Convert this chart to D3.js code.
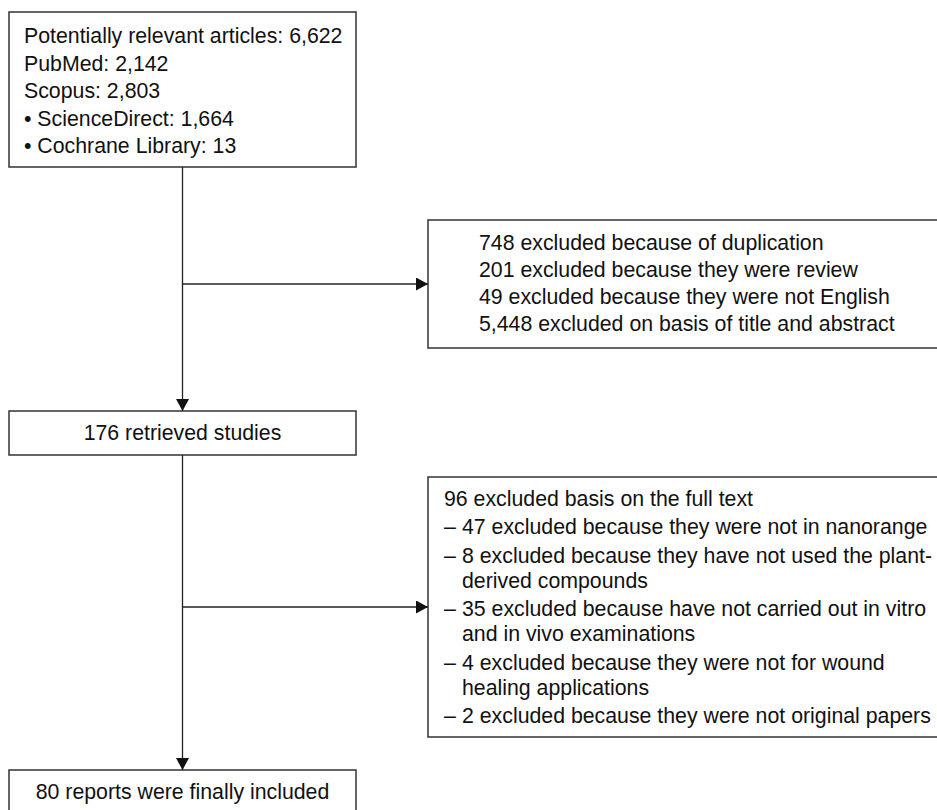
<!DOCTYPE html>
<html>
<head>
<meta charset="utf-8">
<script src="https://cdn.jsdelivr.net/npm/d3@7"></script>
<style>
  body { margin: 0; background: #fff; }
  text { font-family: Arial, "Liberation Sans", sans-serif; font-size: 21.3px; fill: #111; }
</style>
</head>
<body>
<div class="chart"></div>
<script>
// flow counts
const totalArticles = 6622;
const sourceNames = ["PubMed", "Scopus", "ScienceDirect", "Cochrane Library"];
const sourceCounts = [2142, 2803, 1664, 13];
const sourceBullet = [false, false, true, true];

const dupCounts = [748, 201, 49, 5448];
const dupReasons = [
  "excluded because of duplication",
  "excluded because they were review",
  "excluded because they were not English",
  "excluded on basis of title and abstract"
];

const retrieved = 176;

const fullTextTotal = 96;
const fullTextCounts = [47, 8, 35, 4, 2];
const fullTextReasons = [
  ["excluded because they were not in nanorange"],
  ["excluded because they have not used the plant-", "derived compounds"],
  ["excluded because have not carried out in vitro", "and in vivo examinations"],
  ["excluded because they were not for wound", "healing applications"],
  ["excluded because they were not original papers"]
];

const included = 80;

const fmt = d3.format(",");
const width = 937, height = 810;

const svg = d3.select(".chart")
  .append("svg")
  .attr("width", width)
  .attr("height", height);

svg.append("defs").append("marker")
  .attr("id", "head")
  .attr("markerUnits", "userSpaceOnUse")
  .attr("viewBox", "0 0 12 13")
  .attr("refX", 12).attr("refY", 6.5)
  .attr("markerWidth", 12).attr("markerHeight", 13)
  .attr("orient", "auto")
  .append("path")
  .attr("d", "M0,0L12,6.5L0,13Z")
  .attr("fill", "#111");

// boxes
const left = { x: 9, w: 347 };
const right = { x: 428, w: 540 };
const boxes = [
  { x: left.x, y: 12, w: left.w, h: 155 },
  { x: right.x, y: 220, w: right.w, h: 128 },
  { x: left.x, y: 411, w: left.w, h: 44 },
  { x: right.x, y: 477, w: right.w, h: 260 },
  { x: left.x, y: 770, w: left.w, h: 80 }
];
svg.selectAll("rect.box")
  .data(boxes)
  .join("rect")
  .attr("class", "box")
  .attr("x", d => d.x)
  .attr("y", d => d.y)
  .attr("width", d => d.w)
  .attr("height", d => d.h)
  .attr("fill", "none")
  .attr("stroke", "#333")
  .attr("stroke-width", 1.5);

const cx = left.x + left.w / 2;
const mid = b => b.y + b.h / 2;

// connectors
const links = [
  [[cx, boxes[0].y + boxes[0].h], [cx, boxes[2].y]],
  [[cx, mid(boxes[1])], [right.x, mid(boxes[1])]],
  [[cx, boxes[2].y + boxes[2].h], [cx, boxes[4].y]],
  [[cx, mid(boxes[3])], [right.x, mid(boxes[3])]]
];
svg.selectAll("path.link")
  .data(links)
  .join("path")
  .attr("class", "link")
  .attr("d", d3.line())
  .attr("stroke", "#222")
  .attr("stroke-width", 1.3)
  .attr("marker-end", "url(#head)");

// box 1: sources
const srcLines = [`Potentially relevant articles: ${fmt(totalArticles)}`]
  .concat(sourceNames.map((n, i) => (sourceBullet[i] ? "\u2022 " : "") + n + ": " + fmt(sourceCounts[i])));
svg.selectAll("text.src")
  .data(srcLines)
  .join("text")
  .attr("class", "src")
  .attr("x", 24)
  .attr("y", (d, i) => 43 + i * 27.5)
  .text(d => d);

// box 2: screening exclusions
svg.selectAll("text.dup")
  .data(dupCounts)
  .join("text")
  .attr("class", "dup")
  .attr("x", 479)
  .attr("y", (d, i) => 250 + i * 27)
  .text((d, i) => fmt(d) + " " + dupReasons[i]);

// box 3
svg.append("text")
  .attr("x", cx)
  .attr("y", 440)
  .attr("text-anchor", "middle")
  .text(`${fmt(retrieved)} retrieved studies`);

// box 4: full text exclusions
const ftRows = [{ t: `${fullTextTotal} excluded basis on the full text`, x: 444, dash: false }];
fullTextCounts.forEach((c, i) => {
  fullTextReasons[i].forEach((line, j) => {
    ftRows.push({ t: j === 0 ? `${c} ${line}` : line, x: 462, dash: j === 0 });
  });
});
let yy = 506;
ftRows.forEach((r, k) => {
  if (k > 0) yy += r.dash ? 28.3 : 25.2;
  r.y = yy;
});
const ft = svg.selectAll("g.ft")
  .data(ftRows)
  .join("g")
  .attr("class", "ft");
ft.append("text")
  .attr("x", d => d.x)
  .attr("y", d => d.y)
  .text(d => d.t);
ft.filter(d => d.dash)
  .append("text")
  .attr("x", 444)
  .attr("y", d => d.y)
  .text("\u2013");

// box 5
svg.append("text")
  .attr("x", cx)
  .attr("y", 799)
  .attr("text-anchor", "middle")
  .text(`${included} reports were finally included`);
</script>
</body>
</html>
